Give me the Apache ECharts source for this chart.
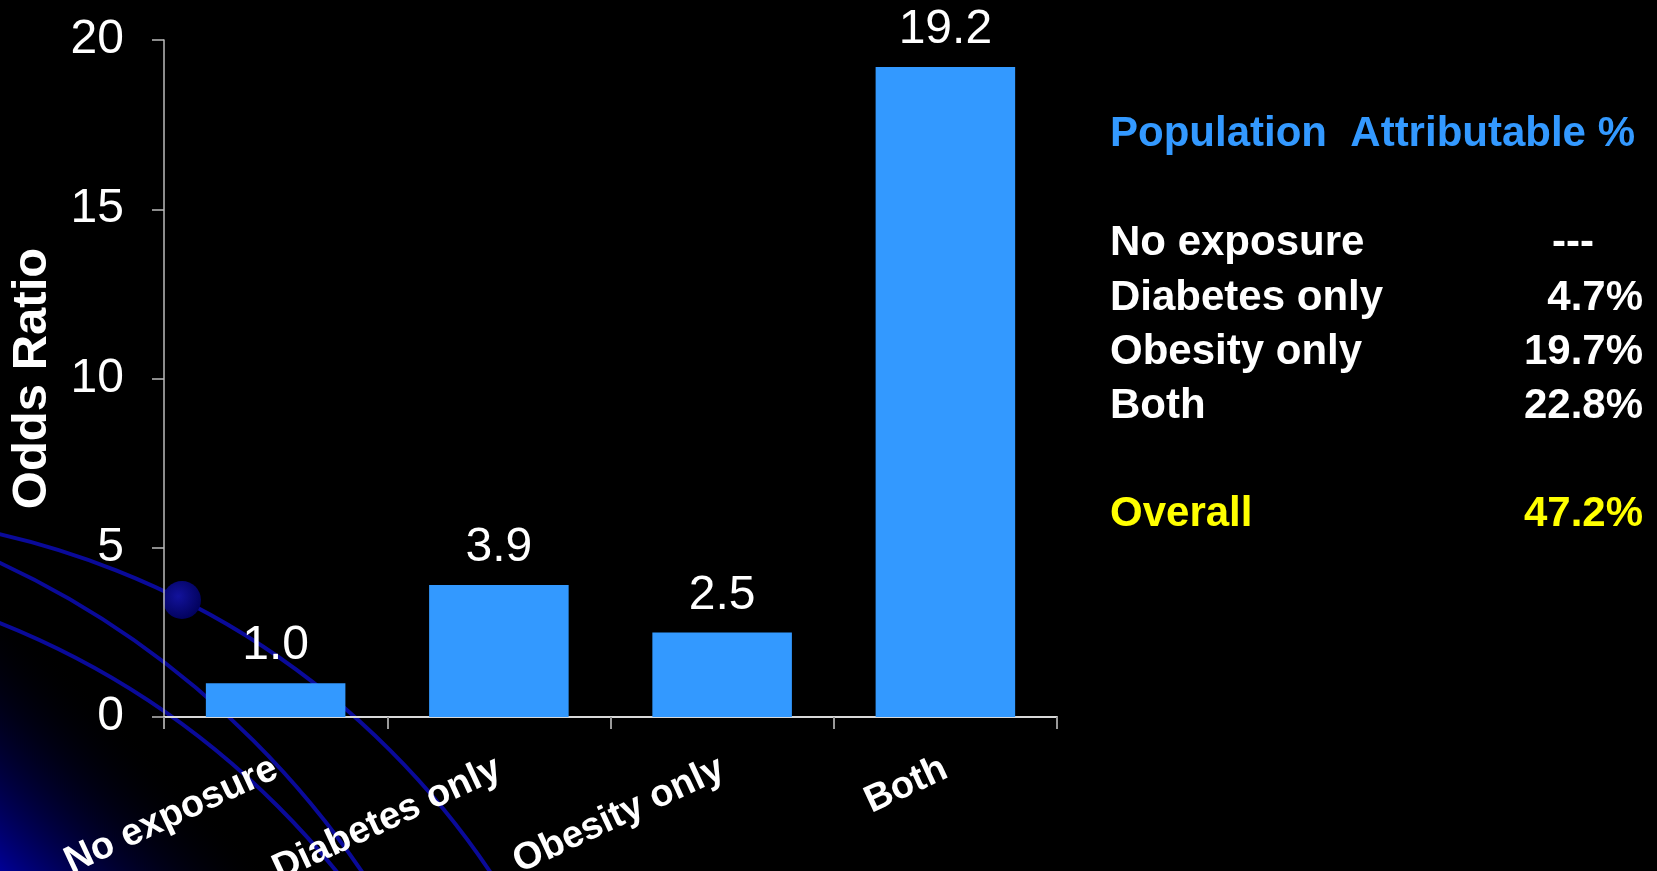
<!DOCTYPE html>
<html>
<head>
<meta charset="utf-8">
<script src="https://cdn.jsdelivr.net/npm/echarts@6/dist/echarts.min.js"></script>
<style>
  html, body { margin: 0; padding: 0; background: #000; }
  #chart { width: 1657px; height: 871px; }
</style>
</head>
<body>
<div id="chart"></div>
<script>
// bar chart data
const categories = ['No exposure', 'Diabetes only', 'Obesity only', 'Both'];
const oddsRatios = [1.0, 3.9, 2.5, 19.2];

// side table: population attributable %
const parTitle = 'Population  Attributable %';
const parGroups = ['No exposure', 'Diabetes only', 'Obesity only', 'Both'];
const parValues = ['---', '4.7%', '19.7%', '22.8%'];
const overallLabel = 'Overall';
const overallValue = '47.2%';

const FONT = '"Liberation Sans", Arial, sans-serif';
const BLUE = '#3399ff';

// slide template decoration (bottom-left arcs + glow)
function decoration() {
  const arcStyle = { stroke: '#0a0a99', lineWidth: 4, fill: null };
  return [
    {
      type: 'polygon', z: -10, silent: true,
      shape: { points: [[0, 595], [0, 871], [276, 871]] },
      style: {
        fill: new echarts.graphic.LinearGradient(0, 871, 138, 733, [
          { offset: 0, color: 'rgba(0,0,150,1)' },
          { offset: 1, color: 'rgba(0,0,0,0)' }
        ], true)
      }
    },
    { type: 'arc', z: -9, silent: true, shape: { cx: -180, cy: 1320, r: 806, startAngle: -Math.PI / 2, endAngle: 0 }, style: arcStyle },
    { type: 'arc', z: -9, silent: true, shape: { cx: -378, cy: 1372, r: 893, startAngle: -Math.PI / 2, endAngle: 0 }, style: arcStyle },
    { type: 'arc', z: -9, silent: true, shape: { cx: -307, cy: 1391, r: 827, startAngle: -Math.PI / 2, endAngle: 0 }, style: arcStyle },
    {
      type: 'circle', z: -8, silent: true,
      shape: { cx: 182, cy: 600, r: 19 },
      style: {
        fill: new echarts.graphic.RadialGradient(0.4, 0.4, 0.7, [
          { offset: 0, color: '#12129c' },
          { offset: 1, color: '#000055' }
        ])
      }
    }
  ];
}

function sideTable() {
  const left = 1110, right = 1643;
  const rowY = [243, 298, 352, 406];
  const els = [{
    type: 'text', x: left, y: 134,
    style: { text: parTitle, fill: BLUE, font: 'bold 42px ' + FONT, textVerticalAlign: 'middle' }
  }];
  parGroups.forEach((g, i) => {
    els.push({
      type: 'text', x: left, y: rowY[i],
      style: { text: g, fill: '#fff', font: 'bold 42px ' + FONT, textVerticalAlign: 'middle' }
    });
    const isDash = parValues[i] === '---';
    els.push({
      type: 'text', x: isDash ? 1594 : right, y: rowY[i],
      style: { text: parValues[i], fill: '#fff', font: 'bold 42px ' + FONT, textAlign: 'right', textVerticalAlign: 'middle' }
    });
  });
  els.push({
    type: 'text', x: left, y: 514,
    style: { text: overallLabel, fill: '#ffff00', font: 'bold 42px ' + FONT, textVerticalAlign: 'middle' }
  });
  els.push({
    type: 'text', x: right, y: 514,
    style: { text: overallValue, fill: '#ffff00', font: 'bold 42px ' + FONT, textAlign: 'right', textVerticalAlign: 'middle' }
  });
  return els;
}

const chart = echarts.init(document.getElementById('chart'));
chart.setOption({
  backgroundColor: '#000',
  animation: false,
  grid: { left: 164, right: 600, top: 40, bottom: 154, outerBoundsMode: 'none' },
  graphic: { elements: decoration().concat(sideTable()) },
  xAxis: {
    type: 'category',
    data: categories,
    axisLine: { lineStyle: { color: '#d8d8d8', width: 2 } },
    axisTick: { show: true, length: 12, lineStyle: { color: '#999', width: 2 } },
    axisLabel: {
      rotate: 25, margin: 50, color: '#fff',
      fontFamily: FONT, fontWeight: 'bold', fontSize: 38
    }
  },
  yAxis: {
    type: 'value',
    min: 0, max: 20, interval: 5,
    name: 'Odds Ratio',
    nameLocation: 'middle',
    nameRotate: 90,
    nameGap: 107,
    nameTextStyle: { color: '#fff', fontFamily: FONT, fontWeight: 'bold', fontSize: 49 },
    axisLine: { show: true, lineStyle: { color: '#bbb', width: 1.5 } },
    axisTick: { show: true, length: 12, lineStyle: { color: '#bbb', width: 1.5 } },
    splitLine: { show: false },
    axisLabel: { color: '#fff', fontFamily: FONT, fontSize: 48, margin: 40 }
  },
  series: [{
    type: 'bar',
    data: oddsRatios,
    barCategoryGap: '37.5%',
    itemStyle: { color: BLUE },
    label: {
      show: true, position: 'top', distance: 13,
      color: '#fff', fontFamily: FONT, fontSize: 48,
      formatter: (p) => p.value.toFixed(1)
    }
  }]
});
</script>
</body>
</html>
